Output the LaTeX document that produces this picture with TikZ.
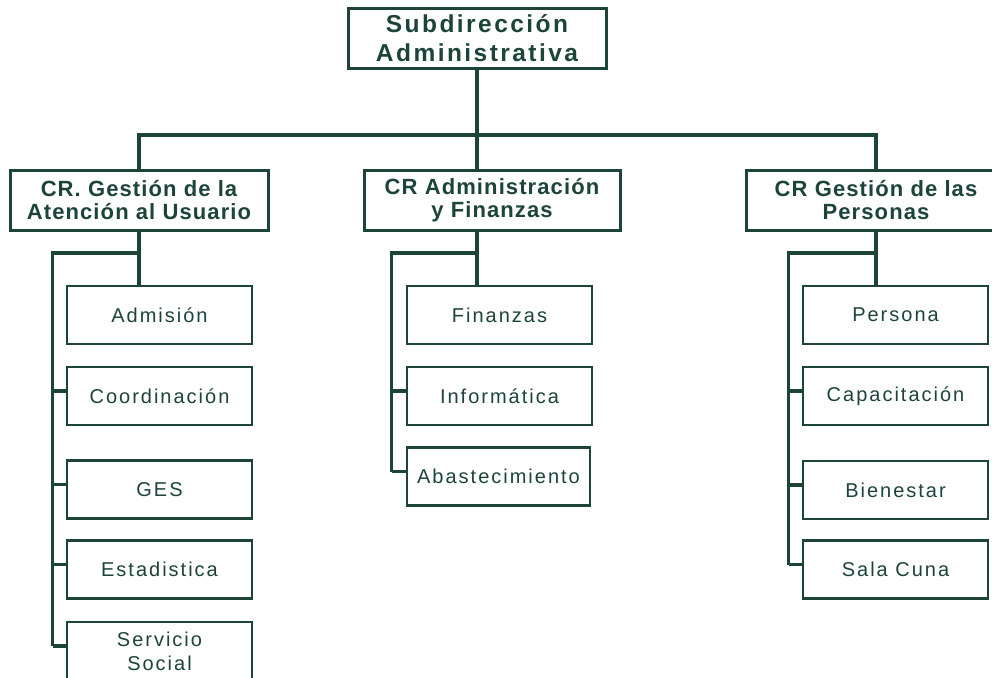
\documentclass[tikz,border=0pt]{standalone}
\usepackage{fontspec}
\setmainfont{Liberation Sans}
\newfontfamily\topfont[LetterSpace=10]{Liberation Sans}
\newfontfamily\crfont[LetterSpace=5]{Liberation Sans}
\newfontfamily\unitfont[LetterSpace=10]{Liberation Sans}
\definecolor{orggreen}{RGB}{28,68,56}
\begin{document}
\begin{tikzpicture}[x=1pt,y=-1pt,
		topbox/.style={draw=orggreen, line width=3pt, text=orggreen, minimum width=258pt, minimum height=59pt, inner sep=0pt, align=center, font=\topfont\bfseries\fontsize{24.5}{29}\selectfont},
		crbox/.style={draw=orggreen, line width=3pt, text=orggreen, minimum width=258pt, minimum height=60pt, inner sep=0pt, align=center, font=\crfont\bfseries\fontsize{22}{23}\selectfont},
		unit/.style={draw=orggreen, line width=2.6pt, text=orggreen, minimum width=185pt, minimum height=58pt, inner sep=0pt, align=center, font=\unitfont\fontsize{20}{24}\selectfont},
		link/.style={draw=orggreen, line width=3.2pt}]
		\useasboundingbox (0,0) rectangle (992,677);
		\fill[white] (0,0) rectangle (992,677);
		\clip (0,0) rectangle (992,677);
		
		\node[topbox] (top) at (477,38.5) {Subdirección\\Administrativa};
		
		\node[crbox] (cra) at (139,200) {CR. Gestión de la\\Atención al Usuario};
		\node[crbox, minimum width=256pt] (caf) at (492,200) {CR Administración\\y Finanzas};
		\node[crbox, minimum width=260pt] (crp) at (876,200) {CR Gestión de las\\Personas};
		
		\node[unit] (adm) at (159.5,315) {Admisión};
		\node[unit] (coo) at (159.5,396) {Coordinación};
		\node[unit] (ges) at (159.5,489.5) {GES};
		\node[unit] (est) at (159.5,569.5) {Estadistica};
		\node[unit] (soc) at (159.5,651) {Servicio\\Social};
		
		\node[unit] (fin) at (499.5,315) {Finanzas};
		\node[unit] (inf) at (499.5,396) {Informática};
		\node[unit, minimum width=183pt] (aba) at (498.5,476.5) {Abastecimiento};
		
		\node[unit] (per) at (895.5,315) {Persona};
		\node[unit] (cap) at (895.5,396) {Capacitación};
		\node[unit] (bie) at (895.5,490) {Bienestar};
		\node[unit] (sal) at (895.5,569.5) {Sala Cuna};
		
		\coordinate (bar) at (477,135);
		\coordinate (lsp) at (54,253);
		\coordinate (msp) at (393,253);
		\coordinate (rsp) at (790,253);
		
		\draw[link] (top.south) -- (bar);
		\draw[link] (cra.north) |- (bar) -| (crp.north);
		\draw[link] (bar) -- (bar |- caf.north);
		
		\draw[link] (cra.south) -- (cra.south |- adm.north);
		\draw[link] (cra.south |- lsp) -| ([xshift=-13pt,yshift=5pt]soc.west);
		\foreach \n in {coo,ges,est,soc}{
			\draw[link] ([yshift=5pt]\n.west) -- ++(-13,0);
		}
		
		\draw[link] (bar |- caf.south) -- (bar |- fin.north);
		\draw[link] (bar |- msp) -| ([xshift=-14pt,yshift=5pt]aba.west);
		\foreach \n in {inf,aba}{
			\draw[link] ([yshift=5pt]\n.west) -- ++(-14,0);
		}
		
		\draw[link] (crp.south) -- (crp.south |- per.north);
		\draw[link] (crp.south |- rsp) -| ([xshift=-13pt,yshift=5pt]sal.west);
		\foreach \n in {cap,bie,sal}{
			\draw[link] ([yshift=5pt]\n.west) -- ++(-13,0);
		}
\end{tikzpicture}
\end{document}
